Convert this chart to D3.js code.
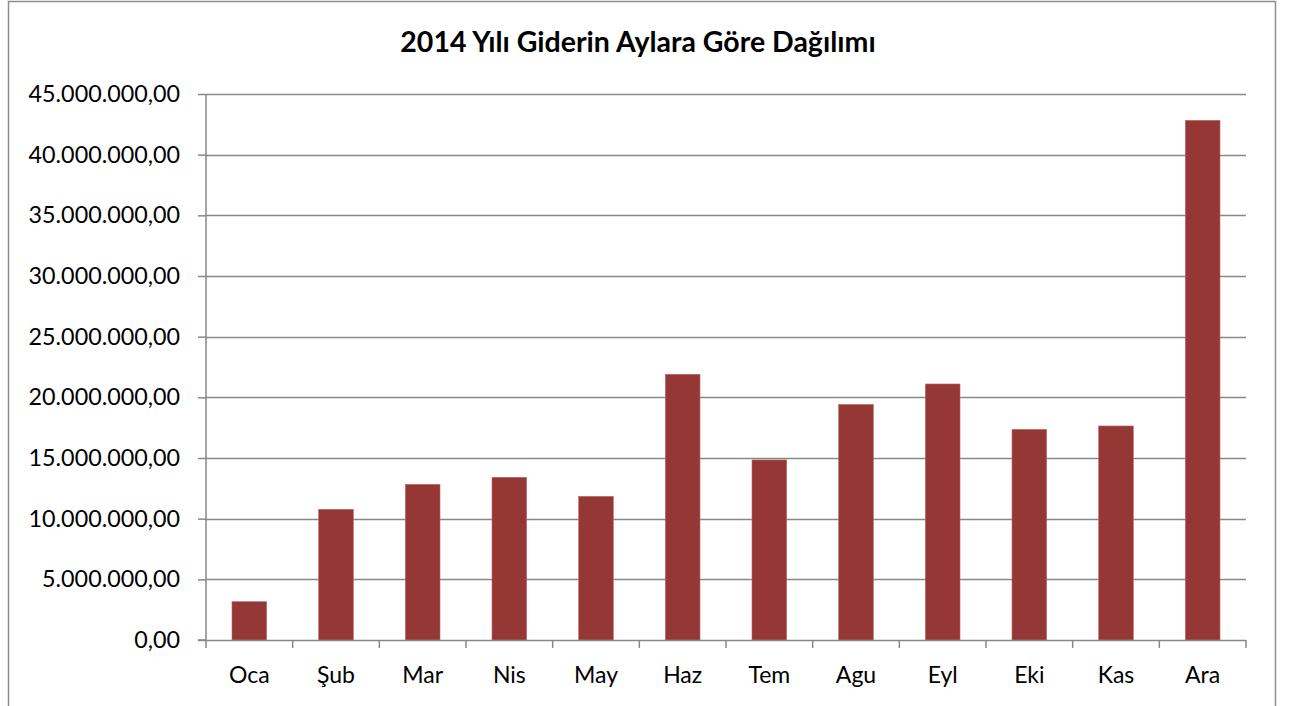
<!DOCTYPE html>
<html><head><meta charset="utf-8">
<script src="https://cdn.jsdelivr.net/npm/d3@7"></script>
<style>body{margin:0;background:#fff}svg{display:block}</style>
</head><body>
<svg id="c" width="1290" height="706"></svg>
<script>
const title = "2014 Yılı Giderin Aylara Göre Dağılımı";
const months = ["Oca","Şub","Mar","Nis","May","Haz","Tem","Agu","Eyl","Eki","Kas","Ara"];
const values = [3160000,10770000,12830000,13410000,11840000,21900000,14840000,19420000,21100000,17360000,17640000,42830000];
const yTicks = [0,5000000,10000000,15000000,20000000,25000000,30000000,35000000,40000000,45000000];

const svg = d3.select("#c");
const L=206, R=1246, T=94, B=640;
const font = "Lato, 'Open Sans', sans-serif";

svg.append("rect").attr("x",8.5).attr("y",1.5).attr("width",1267).attr("height",740)
  .attr("fill","#fff").attr("stroke","#8e8e8e").attr("stroke-width",1.5);

svg.append("text").attr("x",638).attr("y",52).attr("text-anchor","middle")
  .attr("font-family",font).attr("font-weight","bold").attr("font-size",28.5).attr("fill","#000").text(title);

const x = d3.scaleBand().domain(months).range([L,R]).paddingInner(0.6).paddingOuter(0.3);
const y = d3.scaleLinear().domain([0,45000000]).range([B,T]);

// gridlines
svg.append("g").selectAll("line").data(yTicks.filter(d=>d>0)).join("line")
  .attr("x1",L).attr("x2",R).attr("y1",d=>Math.round(y(d))+0.5).attr("y2",d=>Math.round(y(d))+0.5)
  .attr("stroke","#888").attr("stroke-width",1.5);

const fmt = d => d3.format(",.2f")(d).replace(/,/g,"#").replace(".",",").replace(/#/g,".");

const ya = svg.append("g").attr("transform",`translate(${L},0)`)
  .call(d3.axisLeft(y).tickValues(yTicks).tickSize(8).tickPadding(18).tickFormat(fmt));
ya.select(".domain").attr("stroke","#888").attr("stroke-width",1.5).attr("d",`M-8,${B}H0V${T}`);
ya.selectAll(".tick line").attr("stroke","#888").attr("stroke-width",1.5);
ya.selectAll(".tick text").attr("font-family",font).attr("font-size",23.3).attr("fill","#000");

// bars
svg.append("g").selectAll("rect").data(months).join("rect")
  .attr("x",d=>x(d)).attr("width",x.bandwidth())
  .attr("y",(d,i)=>y(values[i])).attr("height",(d,i)=>B-y(values[i]))
  .attr("fill","#953735").attr("stroke","#b96a68").attr("stroke-width",0.6);

// x axis
const xb = d3.scaleBand().domain(months).range([L,R]);
const xa = svg.append("g").attr("transform",`translate(0,${B})`)
  .call(d3.axisBottom(xb).tickSize(0).tickPadding(27));
xa.select(".domain").attr("stroke","#888").attr("stroke-width",1.5).attr("d",`M${L},0.5H${R}`);
xa.selectAll(".tick text").attr("font-family",font).attr("font-size",23).attr("fill","#000");
const bounds = d3.range(months.length+1).map(i=>L+i*xb.bandwidth());
xa.append("g").selectAll("line").data(bounds).join("line")
  .attr("x1",d=>d).attr("x2",d=>d).attr("y1",0).attr("y2",8)
  .attr("stroke","#888").attr("stroke-width",1.5);
</script>
</body></html>
